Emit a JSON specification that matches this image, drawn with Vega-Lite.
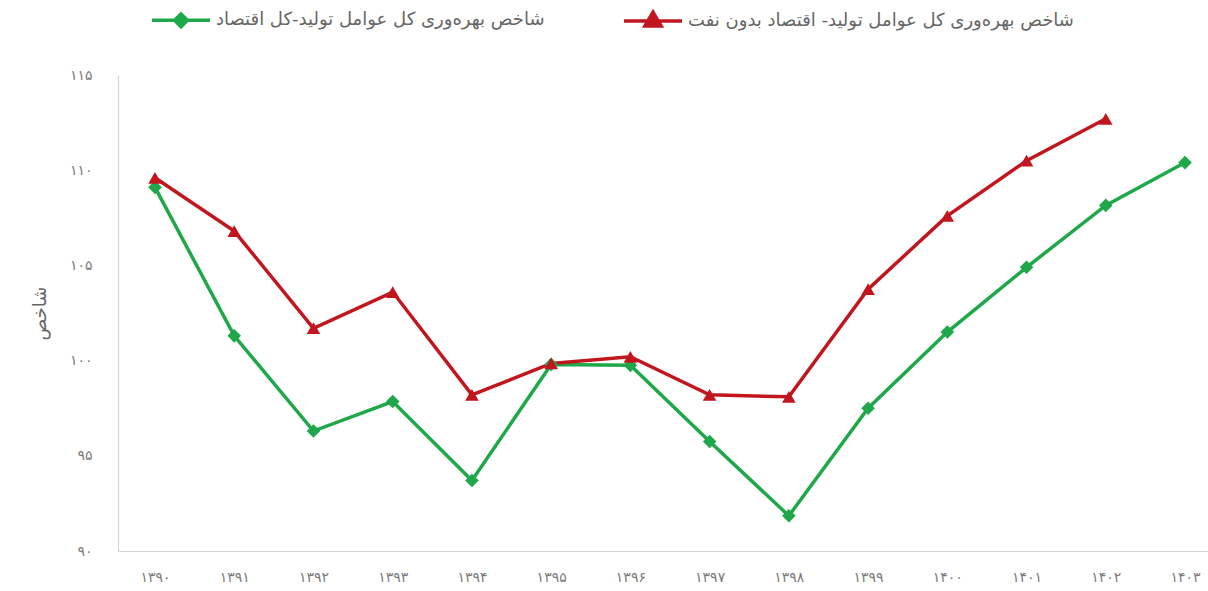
{
  "$schema": "https://vega.github.io/schema/vega-lite/v6.json",
  "autosize": "none",
  "width": 1104,
  "height": 476,
  "padding": {"left": 118, "top": 75, "right": 0, "bottom": 40},
  "background": "white",
  "config": {
    "font": "DejaVu Sans",
    "view": {"stroke": null},
    "axis": {"grid": false, "ticks": false, "domainColor": "#d4d4d4", "domainWidth": 1.2, "labelColor": "#7a7a7a", "titleColor": "#666666", "labelFont": "DejaVu Sans", "titleFont": "DejaVu Sans"}
  },
  "data": {
    "values": [
      {"year": "۱۳۹۰", "series": "شاخص بهره‌وری کل عوامل تولید-کل اقتصاد", "value": 109.1},
      {"year": "۱۳۹۱", "series": "شاخص بهره‌وری کل عوامل تولید-کل اقتصاد", "value": 101.3},
      {"year": "۱۳۹۲", "series": "شاخص بهره‌وری کل عوامل تولید-کل اقتصاد", "value": 96.3},
      {"year": "۱۳۹۳", "series": "شاخص بهره‌وری کل عوامل تولید-کل اقتصاد", "value": 97.85},
      {"year": "۱۳۹۴", "series": "شاخص بهره‌وری کل عوامل تولید-کل اقتصاد", "value": 93.7},
      {"year": "۱۳۹۵", "series": "شاخص بهره‌وری کل عوامل تولید-کل اقتصاد", "value": 99.8},
      {"year": "۱۳۹۶", "series": "شاخص بهره‌وری کل عوامل تولید-کل اقتصاد", "value": 99.75},
      {"year": "۱۳۹۷", "series": "شاخص بهره‌وری کل عوامل تولید-کل اقتصاد", "value": 95.75},
      {"year": "۱۳۹۸", "series": "شاخص بهره‌وری کل عوامل تولید-کل اقتصاد", "value": 91.85},
      {"year": "۱۳۹۹", "series": "شاخص بهره‌وری کل عوامل تولید-کل اقتصاد", "value": 97.5},
      {"year": "۱۴۰۰", "series": "شاخص بهره‌وری کل عوامل تولید-کل اقتصاد", "value": 101.5},
      {"year": "۱۴۰۱", "series": "شاخص بهره‌وری کل عوامل تولید-کل اقتصاد", "value": 104.9},
      {"year": "۱۴۰۲", "series": "شاخص بهره‌وری کل عوامل تولید-کل اقتصاد", "value": 108.15},
      {"year": "۱۴۰۳", "series": "شاخص بهره‌وری کل عوامل تولید-کل اقتصاد", "value": 110.4},
      {"year": "۱۳۹۰", "series": "شاخص بهره‌وری کل عوامل تولید- اقتصاد بدون نفت", "value": 109.6},
      {"year": "۱۳۹۱", "series": "شاخص بهره‌وری کل عوامل تولید- اقتصاد بدون نفت", "value": 106.8},
      {"year": "۱۳۹۲", "series": "شاخص بهره‌وری کل عوامل تولید- اقتصاد بدون نفت", "value": 101.7},
      {"year": "۱۳۹۳", "series": "شاخص بهره‌وری کل عوامل تولید- اقتصاد بدون نفت", "value": 103.6},
      {"year": "۱۳۹۴", "series": "شاخص بهره‌وری کل عوامل تولید- اقتصاد بدون نفت", "value": 98.2},
      {"year": "۱۳۹۵", "series": "شاخص بهره‌وری کل عوامل تولید- اقتصاد بدون نفت", "value": 99.85},
      {"year": "۱۳۹۶", "series": "شاخص بهره‌وری کل عوامل تولید- اقتصاد بدون نفت", "value": 100.2},
      {"year": "۱۳۹۷", "series": "شاخص بهره‌وری کل عوامل تولید- اقتصاد بدون نفت", "value": 98.2},
      {"year": "۱۳۹۸", "series": "شاخص بهره‌وری کل عوامل تولید- اقتصاد بدون نفت", "value": 98.1},
      {"year": "۱۳۹۹", "series": "شاخص بهره‌وری کل عوامل تولید- اقتصاد بدون نفت", "value": 103.75},
      {"year": "۱۴۰۰", "series": "شاخص بهره‌وری کل عوامل تولید- اقتصاد بدون نفت", "value": 107.6},
      {"year": "۱۴۰۱", "series": "شاخص بهره‌وری کل عوامل تولید- اقتصاد بدون نفت", "value": 110.5},
      {"year": "۱۴۰۲", "series": "شاخص بهره‌وری کل عوامل تولید- اقتصاد بدون نفت", "value": 112.7}
    ]
  },
  "encoding": {
    "x": {
      "field": "year", "type": "ordinal",
      "scale": {"type": "point", "padding": 0.467},
      "axis": {"title": null, "labelAngle": 0, "labelPadding": 19, "labelFontSize": 14}
    },
    "y": {
      "field": "value", "type": "quantitative",
      "scale": {"domain": [90, 115], "nice": false, "zero": false},
      "axis": {
        "title": "شاخص", "values": [90, 95, 100, 105, 110, 115],
        "labelPadding": 26, "labelFontSize": 14, "titleFontSize": 18, "titleFontWeight": "normal", "titlePadding": 20,
        "labelExpr": "replace(replace(replace(replace(format(datum.value, 'd'), regexp('0','g'), '۰'), regexp('1','g'), '۱'), regexp('5','g'), '۵'), regexp('9','g'), '۹')"
      }
    },
    "color": {
      "field": "series", "type": "nominal",
      "scale": {
        "domain": ["شاخص بهره‌وری کل عوامل تولید-کل اقتصاد", "شاخص بهره‌وری کل عوامل تولید- اقتصاد بدون نفت"],
        "range": ["#1fa84a", "#c2161f"]
      },
      "legend": {
        "title": null, "orient": "none", "direction": "horizontal",
        "legendX": 32, "legendY": -86,
        "symbolSize": 3364, "symbolStrokeWidth": 3.5,
        "labelFontSize": 18, "labelColor": "#666666", "labelLimit": 700, "labelOffset": 4,
        "columnPadding": 72,
        "encode": {
          "symbols": {
            "update": {
              "shape": {"signal": "indexof(datum.value, 'نفت') >= 0 ? 'M-1,0H1M0,-0.3L0.28,0.18L-0.28,0.18Z' : 'M-1,0H1M0,-0.22L0.22,0L0,0.22L-0.22,0Z'"},
              "stroke": {"scale": "color", "field": "value"},
              "fill": {"scale": "color", "field": "value"},
              "strokeWidth": {"value": 3.5}
            }
          }
        }
      }
    }
  },
  "layer": [
    {
      "mark": {"type": "line", "strokeWidth": 3.5}
    },
    {
      "mark": {"type": "point", "filled": true, "opacity": 1, "size": 185},
      "encoding": {
        "shape": {
          "condition": {"test": "indexof(datum.series, 'نفت') >= 0", "value": "triangle-up"},
          "value": "diamond"
        }
      }
    }
  ]
}
